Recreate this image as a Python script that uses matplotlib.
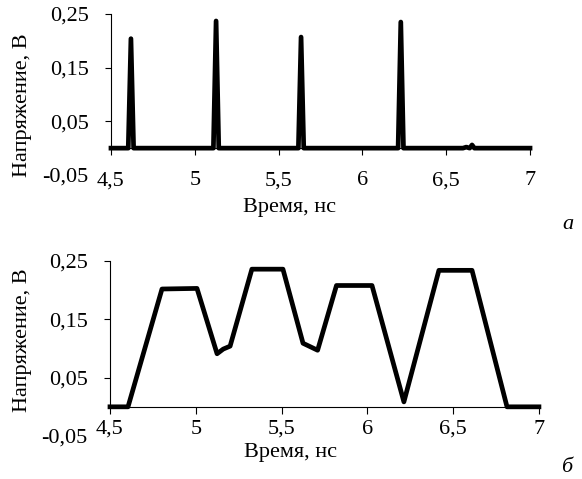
import matplotlib
matplotlib.use("Agg")
import matplotlib.pyplot as plt

plt.rcParams['font.family'] = ['Liberation Serif', 'DejaVu Serif']
plt.rcParams['font.size'] = 16

# (а) narrow pulses
t_a = [4.5, 4.603, 4.619, 4.635, 5.111, 5.127, 5.143, 5.618, 5.634, 5.650,
       6.213, 6.229, 6.245, 6.600, 6.620, 6.640, 6.654, 6.668, 7.0]
v_a = [0, 0, 0.204, 0, 0, 0.237, 0, 0, 0.207, 0,
       0, 0.235, 0, 0, 0.002, 0, 0.006, 0, 0]

# (б) wide pulses
t_b = [4.5, 4.605, 4.803, 5.007, 5.124, 5.16, 5.2, 5.327, 5.508, 5.625,
       5.71, 5.82, 6.027, 6.213, 6.417, 6.61, 6.814, 7.0]
v_b = [0, 0, 0.202, 0.203, 0.091, 0.099, 0.104, 0.236, 0.236, 0.109,
       0.097, 0.208, 0.208, 0.0085, 0.234, 0.234, 0, 0]

x_ticks = [4.5, 5, 5.5, 6, 6.5, 7]
x_labels = ["4,5", "5", "5,5", "6", "6,5", "7"]
y_ticks = [-0.05, 0.05, 0.15, 0.25]
y_labels = ["-0,05", "0,05", "0,15", "0,25"]

fig = plt.figure(figsize=(5.82, 4.79), dpi=100)
ax1 = fig.add_axes([0.1907, 0.6347, 0.720, 0.3361])
ax2 = fig.add_axes([0.189, 0.0898, 0.737, 0.3653])


def style(ax, xpad, xlab_pos, ylab_pos):
    ax.set_xlim(4.5, 7)
    ax.set_ylim(-0.05, 0.25)
    for s in ['top', 'right']:
        ax.spines[s].set_visible(False)
    ax.spines['bottom'].set_position(('data', 0))
    ax.spines['left'].set_bounds(0, 0.25)
    for s in ['bottom', 'left']:
        ax.spines[s].set_linewidth(0.8)
    ax.set_xticks(x_ticks)
    ax.set_xticklabels(x_labels)
    ax.set_yticks(y_ticks)
    ax.set_yticklabels(y_labels)
    ax.tick_params(axis='x', direction='out', length=5, width=0.8, pad=xpad)
    ax.tick_params(axis='y', direction='out', length=4, width=0.8, pad=12)
    ax.yaxis.get_major_ticks()[0].tick1line.set_visible(False)
    ax.set_xlabel("Время, нс")
    ax.xaxis.label.set_verticalalignment('center')
    ax.xaxis.set_label_coords(*xlab_pos)
    ax.set_ylabel("Напряжение, В")
    ax.yaxis.label.set_verticalalignment('center')
    ax.yaxis.set_label_coords(*ylab_pos)


ax1.plot(t_a, v_a, color='black', lw=3.4, solid_joinstyle='round', zorder=3, clip_on=False)
style(ax1, 11.5, (0.425, -0.205), (-0.212, 0.435))

ax2.plot(t_b, v_b, color='black', lw=3.4, solid_joinstyle='round', zorder=3, clip_on=False)
style(ax2, 4.5, (0.42, -0.092), (-0.205, 0.549))

fig.text(568 / 582, 1 - 224 / 479, "а", style='italic', ha='center', va='center')
fig.text(567 / 582, 1 - 467 / 479, "б", style='italic', ha='center', va='center')

fig.savefig("out.png", dpi=100)
